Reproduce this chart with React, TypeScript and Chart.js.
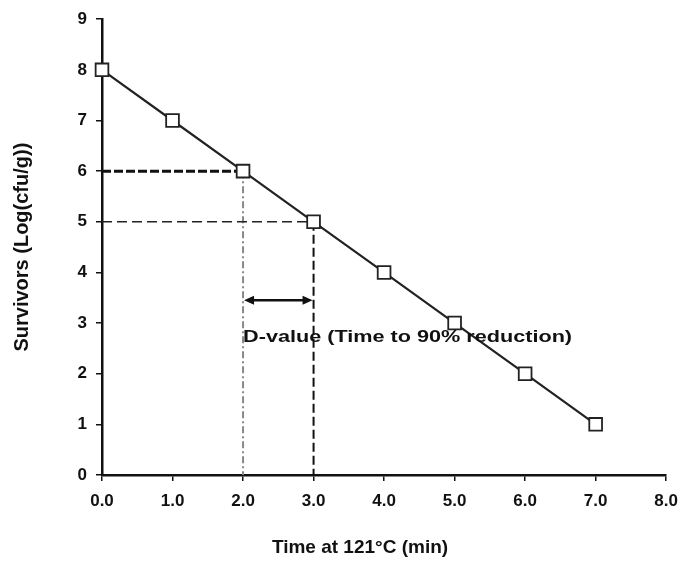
import React, { useEffect, useRef } from "react";
import { Chart, registerables } from "chart.js";

Chart.register(...registerables);

const timeMin = [0, 1, 2, 3, 4, 5, 6, 7];
const survivorsLog = [8, 7, 6, 5, 4, 3, 2, 1];
const xTicksMax = 8;
const yTicksMax = 9;
const dStartIdx = 2;
const dEndIdx = 3;
const arrowY = 3.45;
const dLabelY = 2.72;
const dLabel = "D-value (Time to 90% reduction)";
const xTitle = "Time at 121°C (min)";
const yTitle = "Survivors (Log(cfu/g))";

const FONT = "'Liberation Sans', Arial, sans-serif";

const annotPlugin = {
  id: "dvalue",
  afterDatasetsDraw(chart: any) {
    const { ctx, scales } = chart;
    const x = scales.x;
    const y = scales.y;
    const x1 = x.getPixelForValue(timeMin[dStartIdx]);
    const x2 = x.getPixelForValue(timeMin[dEndIdx]);
    const ay = y.getPixelForValue(arrowY);
    ctx.save();
    ctx.strokeStyle = "#111";
    ctx.fillStyle = "#111";
    ctx.lineWidth = 2.5;
    ctx.beginPath();
    ctx.moveTo(x1 + 6, ay);
    ctx.lineTo(x2 - 6, ay);
    ctx.stroke();
    const head = (tipX: number, dir: number) => {
      ctx.beginPath();
      ctx.moveTo(tipX, ay);
      ctx.lineTo(tipX + dir * 10, ay - 4.5);
      ctx.lineTo(tipX + dir * 10, ay + 4.5);
      ctx.closePath();
      ctx.fill();
    };
    head(x1 + 1, 1);
    head(x2 - 1, -1);
    ctx.font = `bold 16px ${FONT}`;
    ctx.textBaseline = "middle";
    ctx.textAlign = "left";
    const ty = y.getPixelForValue(dLabelY);
    const w = ctx.measureText(dLabel).width;
    const target = 329;
    ctx.save();
    ctx.translate(x1, ty);
    ctx.scale(target / w, 1);
    ctx.fillText(dLabel, 0, 0);
    ctx.restore();

    // axis titles
    ctx.font = `bold 19px ${FONT}`;
    ctx.textAlign = "center";
    ctx.textBaseline = "middle";
    ctx.fillText(xTitle, 360, 548);
    ctx.save();
    ctx.translate(22, (chart.chartArea.top + chart.chartArea.bottom) / 2);
    ctx.rotate(-Math.PI / 2);
    ctx.font = `bold 20px ${FONT}`;
    ctx.fillText(yTitle, 0, 0);
    ctx.restore();
    ctx.restore();
  },
};

export default function App() {
  const ref = useRef<HTMLCanvasElement>(null);
  useEffect(() => {
    document.body.style.margin = "0";
    const seg = (a: [number, number], b: [number, number]) => [
      { x: a[0], y: a[1] },
      { x: b[0], y: b[1] },
    ];
    const xs = timeMin[dStartIdx];
    const xe = timeMin[dEndIdx];
    const ys = survivorsLog[dStartIdx];
    const ye = survivorsLog[dEndIdx];
    const chart = new Chart(ref.current!, {
      type: "line",
      data: {
        datasets: [
          {
            data: timeMin.map((t, i) => ({ x: t, y: survivorsLog[i] })),
            borderColor: "#222",
            borderWidth: 2.2,
            pointStyle: "rect",
            pointRadius: 9,
            pointBackgroundColor: "#fff",
            pointBorderColor: "#222",
            pointBorderWidth: 1.8,
            order: 0,
            clip: false as any,
          },
          {
            data: seg([0, ys], [xs, ys]),
            borderColor: "#111",
            borderWidth: 3,
            borderDash: [9, 3],
            pointRadius: 0,
            order: 1,
          },
          {
            data: seg([0, ye], [xe, ye]),
            borderColor: "#222",
            borderWidth: 1.5,
            borderDash: [10, 5],
            pointRadius: 0,
            order: 1,
          },
          {
            data: seg([xs, ys], [xs, 0]),
            borderColor: "#888",
            borderWidth: 2,
            borderDash: [7, 3, 2, 3],
            pointRadius: 0,
            order: 1,
          },
          {
            data: seg([xe, ye], [xe, 0]),
            borderColor: "#111",
            borderWidth: 2,
            borderDash: [9, 4],
            pointRadius: 0,
            order: 1,
          },
        ],
      },
      options: {
        animation: false,
        responsive: false,
        maintainAspectRatio: false,
        layout: { padding: { top: 14, right: 18, left: 0, bottom: 0 } },
        plugins: { legend: { display: false }, tooltip: { enabled: false } },
        scales: {
          x: {
            type: "linear",
            min: 0,
            max: xTicksMax,
            afterFit: (s: any) => {
              s.height = 90;
            },
            ticks: {
              stepSize: 1,
              color: "#111",
              font: { family: FONT, size: 17, weight: "bold" },
              padding: 10,
              callback: (v: any) => Number(v).toFixed(1),
            },
            grid: {
              drawOnChartArea: false,
              color: "#111",
              lineWidth: 1.5,
              tickLength: 6,
            },
            border: { display: true, color: "#111", width: 2.5 },
          },
          y: {
            type: "linear",
            min: 0,
            max: yTicksMax,
            afterFit: (s: any) => {
              s.width = 102;
            },
            ticks: {
              stepSize: 1,
              color: "#111",
              font: { family: FONT, size: 17, weight: "bold" },
              padding: 9,
            },
            grid: {
              drawOnChartArea: false,
              color: "#111",
              lineWidth: 1.5,
              tickLength: 6,
            },
            border: { display: true, color: "#111", width: 2.5 },
          },
        },
      },
      plugins: [annotPlugin],
    });
    return () => chart.destroy();
  }, []);
  return (
    <div style={{ width: 688, height: 565, background: "#fff" }}>
      <canvas ref={ref} width={688} height={565} style={{ display: "block" }} />
    </div>
  );
}
